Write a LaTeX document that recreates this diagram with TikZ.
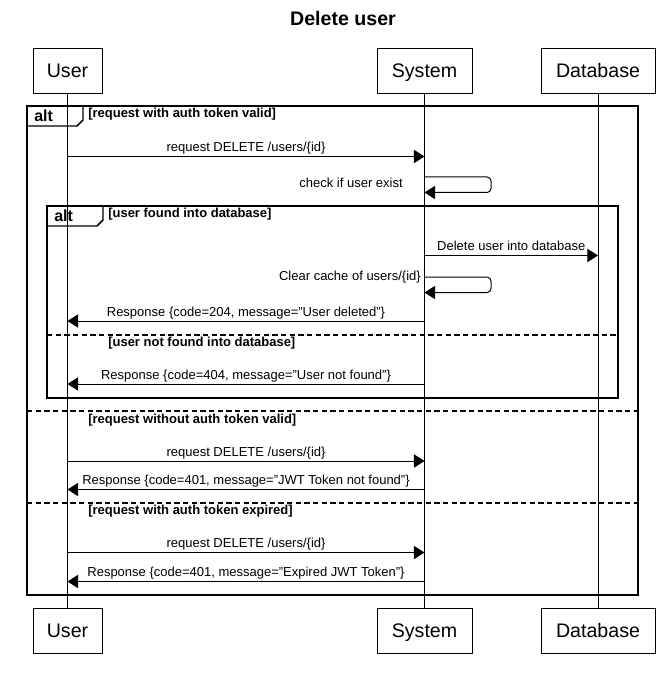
\documentclass[tikz,border=0pt]{standalone}
\usepackage{fontspec}
\setmainfont{Liberation Sans}
\usetikzlibrary{arrows.meta}
\newcommand{\dq}{\symbol{34}}
\begin{document}
\begin{tikzpicture}[x=0.75pt,y=-0.75pt,
  part/.style={draw, line width=0.75pt, inner sep=0pt, minimum height=33.75pt, text height=10.6pt, text depth=0pt, font=\fontsize{14.7}{16}\selectfont},
  life/.style={line width=0.75pt},
  msg/.style={line width=0.75pt, -{Triangle[length=8pt,width=10pt]}},
  lbl/.style={midway, anchor=base, yshift=3.4pt, inner sep=0pt, font=\fontsize{9.75}{11}\selectfont},
  slbl/.style={anchor=base east, inner sep=0pt, font=\fontsize{9.75}{11}\selectfont},
  cond/.style={anchor=base west, inner sep=0pt, font=\fontsize{9.75}{11}\selectfont\bfseries},
  frame/.style={line width=1.5pt},
  sep/.style={line width=1.5pt, dash pattern=on 4pt off 2.5pt},
  tab/.style={line width=1.1pt},
  altlbl/.style={anchor=base west, inner sep=0pt, font=\fontsize{12}{14}\selectfont\bfseries}
]
\useasboundingbox (0,0) rectangle (667,673);

\node[font=\fontsize{14.7}{16}\selectfont\bfseries] (title) at (343,18) {Delete user};

\node[part, minimum width=51.75pt] (u1) at (67.5,70.75) {User};
\node[part, minimum width=71.25pt] (s1) at (424.5,70.75) {System};
\node[part, minimum width=85.5pt] (d1) at (598,70.75) {Database};
\node[part, minimum width=51.75pt] (u2) at (67.5,630.75) {User};
\node[part, minimum width=71.25pt] (s2) at (424.5,630.75) {System};
\node[part, minimum width=85.5pt] (d2) at (598,630.75) {Database};

\draw[life] (u1) -- (u2);
\draw[life] (s1) -- (s2);
\draw[life] (d1) -- (d2);

% outer alt
\draw[frame] (27,106) rectangle (638,595);
\draw[tab] (27,106) -- (83,106) -- (83,120) -- (77,126) -- (27,126);
\node[altlbl] (alt1) at (34,122) {alt};
\node[cond] (c1) at (88,118) {[request with auth token valid]};

\draw[msg] (u1 |- 0,156.5) -- node[lbl] (t1) {request DELETE /users/\{id\}} (s1 |- 0,156.5);
\draw[msg, rounded corners=3pt] (s1 |- 0,177) -- (491,177) -- (491,192.5) -- (s1 |- 0,192.5);
\node[slbl] (t2) at (403,187.5) {check if user exist};

% inner alt
\draw[frame] (47,206) rectangle (618,397.5);
\draw[tab] (47,206) -- (103,206) -- (103,220) -- (97,226) -- (47,226);
\node[altlbl] (alt2) at (54,222) {alt};
\node[cond] (c2) at (108,217.5) {[user found into database]};

\draw[msg] (s1 |- 0,255.5) -- node[lbl] (t3) {Delete user into database} (d1 |- 0,255.5);
\draw[msg, rounded corners=3pt] (s1 |- 0,277) -- (491,277) -- (491,292.5) -- (s1 |- 0,292.5);
\node[slbl] (t4) at (421,280.5) {Clear cache of users/\{id\}};
\draw[msg] (s1 |- 0,321) -- node[lbl] (t5) {Response \{code=204, message=\dq User deleted\dq\}} (u1 |- 0,321);

\draw[sep] (47,335) -- (618,335);
\node[cond] (c3) at (108,346.5) {[user not found into database]};
\draw[msg] (s1 |- 0,384) -- node[lbl] (t6) {Response \{code=404, message=\dq User not found\dq\}} (u1 |- 0,384);

\draw[sep] (27,411) -- (638,411);
\node[cond] (c4) at (88,423) {[request without auth token valid]};
\draw[msg] (u1 |- 0,461) -- node[lbl] (t7) {request DELETE /users/\{id\}} (s1 |- 0,461);
\draw[msg] (s1 |- 0,489.5) -- node[lbl] (t8) {Response \{code=401, message=\dq JWT Token not found\dq\}} (u1 |- 0,489.5);

\draw[sep] (27,503) -- (638,503);
\node[cond] (c5) at (88,514.5) {[request with auth token expired]};
\draw[msg] (u1 |- 0,552.5) -- node[lbl] (t9) {request DELETE /users/\{id\}} (s1 |- 0,552.5);
\draw[msg] (s1 |- 0,581.5) -- node[lbl] (t10) {Response \{code=401, message=\dq Expired JWT Token\dq\}} (u1 |- 0,581.5);
\end{tikzpicture}
\end{document}
